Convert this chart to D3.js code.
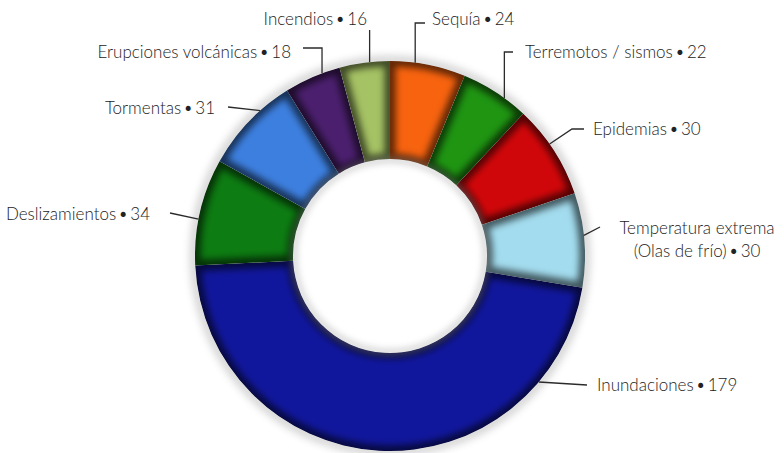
<!DOCTYPE html>
<html>
<head>
<meta charset="utf-8">
<script src="https://cdn.jsdelivr.net/npm/d3@7"></script>
<style>
  body { margin: 0; background: #fff; }
  svg text { font-family: Lato, "Open Sans", sans-serif; font-weight: 300; fill: #222; }
</style>
</head>
<body>
<svg id="chart" width="784" height="453"></svg>
<script>
// disaster counts, clockwise from 12 o'clock
const categories = ["Sequía", "Terremotos / sismos", "Epidemias", "Temperatura extrema|(Olas de frío)",
                    "Inundaciones", "Deslizamientos", "Tormentas", "Erupciones volcánicas", "Incendios"];
const values = [24, 22, 30, 30, 179, 34, 31, 18, 16];
const colours = ["#f7630f", "#1f9512", "#d0070a", "#a3dcee", "#11179c", "#0d7c12", "#3d7fdf", "#4b1f6e", "#a5c264"];

// label placement: f = where on the slice the leader attaches, pts = leader waypoints (null = keep x), tx/ty = text
const labelLayout = [
    { f: .33, pts: [[null, 23], [425, 23]], tx: 432, ty: 25, anchor: 'start' },
    { f: .65, pts: [[null, 52], [513, 52]], tx: 525, ty: 58, anchor: 'start' },
    { f: .42, pts: [[572, 129], [584, 129]], tx: 593, ty: 135, anchor: 'start' },
    { f: .45, pts: [[600, 227]], tx: 697, ty: 234, anchor: 'middle' },
    { f: .184, pts: [[587, 385]], tx: 597, ty: 391, anchor: 'start' },
    { f: .43, pts: [[170, 213]], tx: 150, ty: 220, anchor: 'end' },
    { f: .66, pts: [[228, 107]], tx: 215, ty: 114, anchor: 'end' },
    { f: .68, pts: [[null, 48], [303, 48]], tx: 291, ty: 58, anchor: 'end' },
    { f: .6, pts: [[null, 30]], tx: 367, ty: 25, anchor: 'end' }
];

const cx = 390, cy = 256, rOuter = 195, rInner = 97;

const data = categories.map((c, i) => ({ name: c, value: values[i], colour: colours[i], lay: labelLayout[i] }));

const svg = d3.select('#chart');
const defs = svg.append('defs');

defs.append('filter').attr('id', 'soft').attr('x', '-20%').attr('y', '-20%').attr('width', '140%').attr('height', '140%')
    .append('feGaussianBlur').attr('stdDeviation', 3.5);
defs.append('filter').attr('id', 'halo').attr('x', '-20%').attr('y', '-20%').attr('width', '140%').attr('height', '140%')
    .append('feGaussianBlur').attr('stdDeviation', 4);

const pie = d3.pie().sort(null).value(d => d.value).startAngle(0).endAngle(2 * Math.PI);
const arc = d3.arc().innerRadius(rInner).outerRadius(rOuter);
const arcs = pie(data);

const g = svg.append('g').attr('transform', `translate(${cx},${cy})`);

// soft grey halo round the ring (scan look)
g.append('circle').attr('r', rOuter + 1)
    .attr('fill', 'none').attr('stroke', '#777').attr('stroke-width', 6).attr('opacity', .45)
    .attr('filter', 'url(#halo)');

arcs.forEach((d, i) => {
    defs.append('clipPath').attr('id', 'clip' + i).append('path').attr('d', arc(d));
});

const seg = g.selectAll('g.seg')
    .data(arcs)
    .join('g')
    .attr('class', 'seg')
    .attr('clip-path', (d, i) => `url(#clip${i})`);

seg.append('path')
    .attr('d', arc)
    .attr('fill', d => d.data.colour);

// inner shadow along every slice edge
seg.append('path')
    .attr('d', arc)
    .attr('fill', 'none')
    .attr('stroke', '#000')
    .attr('stroke-width', 11)
    .attr('stroke-opacity', .62)
    .attr('filter', 'url(#soft)');

// grey shading just inside the hole
g.append('circle').attr('r', rInner - 1)
    .attr('fill', 'none').attr('stroke', '#999').attr('stroke-width', 5).attr('opacity', .5)
    .attr('filter', 'url(#soft)');

//-------------------------------------------------------------------------------
// leader lines + labels

function AttachPoint(d) {
    const a = d.startAngle + d.data.lay.f * (d.endAngle - d.startAngle);
    return [cx + rOuter * Math.sin(a), cy - rOuter * Math.cos(a)];
}

function LeaderPoints(d) {
    const pts = [AttachPoint(d)];
    d.data.lay.pts.forEach(p => {
        const last = pts[pts.length - 1];
        pts.push([p[0] == null ? last[0] : p[0], p[1]]);
    });
    return pts;
}

svg.append('g').selectAll('path')
    .data(arcs)
    .join('path')
    .attr('d', d => d3.line()(LeaderPoints(d)))
    .attr('fill', 'none')
    .attr('stroke', '#2b2b2b')
    .attr('stroke-width', 1.3);

const labels = svg.append('g').selectAll('text')
    .data(arcs)
    .join('text')
    .attr('x', d => d.data.lay.tx)
    .attr('y', d => d.data.lay.ty)
    .attr('text-anchor', d => d.data.lay.anchor)
    .style('font-size', '17px');

labels.each(function (d) {
    const parts = d.data.name.split('|');
    const t = d3.select(this);
    parts.forEach((p, k) => {
        const last = k == parts.length - 1;
        t.append('tspan')
            .attr('x', d.data.lay.tx)
            .attr('dy', k == 0 ? 0 : 23)
            .text(last ? `${p}\u2009•\u2009${d.data.value}` : p);
    });
});
</script>
</body>
</html>
